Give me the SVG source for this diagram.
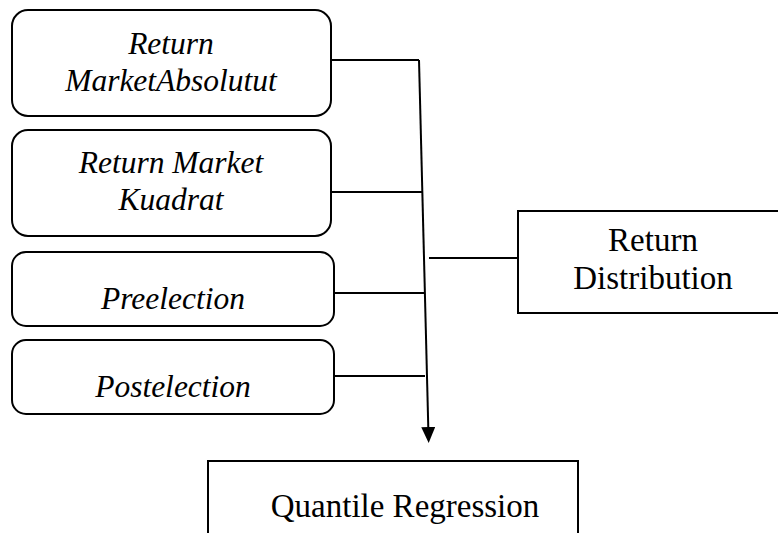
<svg xmlns="http://www.w3.org/2000/svg" width="778" height="533" viewBox="0 0 778 533">
<style>
.box{fill:#fff;stroke:#000;stroke-width:2}
.t{font-family:"Liberation Serif","Times New Roman",serif;font-size:33px;fill:#000;text-anchor:middle}
.i{font-style:italic;font-size:31.5px}
.c{stroke:#000;stroke-width:2;fill:none}
</style>
<defs>
<marker id="arr" markerWidth="16" markerHeight="14" refX="1" refY="7" orient="auto" markerUnits="userSpaceOnUse" viewBox="0 0 16 14">
<path d="M0,0 L16,7 L0,14 Z" fill="#000"/>
</marker>
</defs>
<rect width="778" height="533" fill="#fff"/>
<g id="n1"><rect class="box" x="12" y="10" width="319" height="106" rx="16"/>
<text class="t i" x="171" y="54">Return</text><text class="t i" x="171" y="91">MarketAbsolutut</text></g>
<g id="n2"><rect class="box" x="12" y="130" width="319" height="106" rx="16"/>
<text class="t i" x="171" y="173">Return Market</text><text class="t i" x="171" y="210">Kuadrat</text></g>
<g id="n3"><rect class="box" x="12" y="252" width="322" height="74" rx="14"/>
<text class="t i" x="173" y="309">Preelection</text></g>
<g id="n4"><rect class="box" x="12" y="340" width="322" height="74" rx="14"/>
<text class="t i" x="173" y="397">Postelection</text></g>
<g id="n5"><rect class="box" x="518" y="211" width="270" height="102"/>
<text class="t" x="653" y="251">Return</text><text class="t" x="653" y="289">Distribution</text></g>
<g id="n6"><rect class="box" x="208" y="461" width="370" height="90"/>
<text class="t" x="405" y="517">Quantile Regression</text></g>
<g id="connectors">
<path class="c" d="M331,60 H419"/>
<path class="c" d="M331,192 H423"/>
<path class="c" d="M334,293 H425"/>
<path class="c" d="M334,376 H425"/>
<path class="c" d="M429,258 H518"/>
<path class="c" d="M419,60 L428.3,428" marker-end="url(#arr)"/>
</g>
</svg>
